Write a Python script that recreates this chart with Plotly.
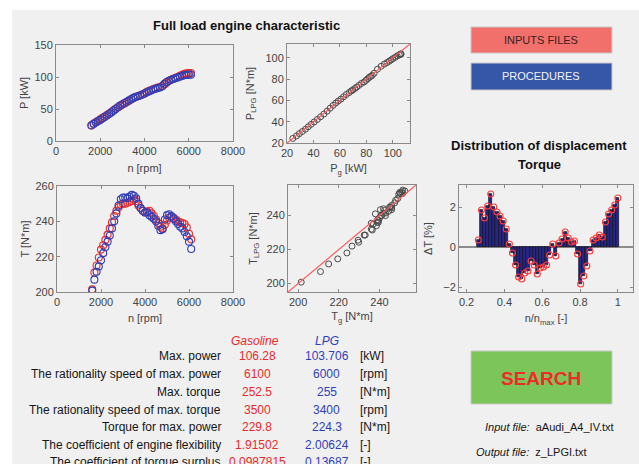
import plotly.graph_objects as go

# ---- engine speed grid [rpm] ----
rpm = [1600, 1700, 1800, 1900, 2000, 2100, 2200, 2300, 2400, 2500,
       2600, 2700, 2800, 2900, 3000, 3100, 3200, 3300, 3400, 3500,
       3600, 3700, 3800, 3900, 4000, 4100, 4200, 4300, 4400, 4500,
       4600, 4700, 4800, 4900, 5000, 5100, 5200, 5300, 5400, 5500,
       5600, 5700, 5800, 5900, 6000, 6100]

# ---- full load torque [N*m] ----
torque_gasoline = [201.5, 211.0, 215.0, 219.5, 224.0, 226.5, 229.5, 232.5, 236.0, 239.5,
                   243.0, 246.0, 248.0, 249.5, 250.0, 250.0, 250.5, 251.0, 251.5, 252.5,
                   251.5, 249.0, 247.5, 246.0, 245.0, 245.5, 246.0, 244.5, 243.0, 241.0,
                   239.0, 237.0, 236.0, 238.0, 240.5, 242.0, 242.5, 242.0, 241.0, 240.0,
                   239.5, 239.0, 238.5, 236.5, 233.0, 229.8]
torque_lpg = [200.8, 207.0, 211.5, 214.5, 218.0, 222.0, 225.5, 228.5, 232.0, 236.0,
              240.0, 244.5, 249.0, 252.5, 253.5, 253.5, 253.0, 254.0, 255.0, 254.5,
              253.0, 250.0, 247.5, 246.0, 245.0, 245.0, 243.5, 242.5, 241.5, 240.0,
              237.5, 235.0, 235.5, 241.0, 243.5, 244.0, 243.0, 241.5, 240.0, 238.5,
              237.0, 236.0, 234.0, 231.5, 228.5, 224.3]

# ---- full load power [kW] ----
power_gasoline = [24.44, 27.20, 29.34, 31.62, 33.97, 36.06, 38.28, 40.54, 42.94, 45.40,
                  47.90, 50.36, 52.65, 54.86, 56.86, 58.76, 60.78, 62.80, 64.83, 67.00,
                  68.65, 69.85, 71.31, 72.74, 74.30, 76.31, 78.34, 79.71, 81.06, 82.22,
                  83.35, 84.45, 85.89, 88.42, 91.17, 93.57, 95.61, 97.24, 98.67, 100.08,
                  101.69, 103.29, 104.88, 105.79, 105.99, 106.28]
power_lpg = [24.30, 26.62, 28.80, 30.83, 32.98, 35.26, 37.53, 39.75, 42.12, 44.63,
             47.20, 49.94, 52.74, 55.39, 57.53, 59.44, 61.24, 63.40, 65.58, 67.38,
             68.90, 69.97, 71.14, 72.57, 74.13, 75.98, 77.36, 78.88, 80.38, 81.69,
             82.64, 83.55, 85.51, 89.33, 92.10, 94.13, 95.58, 96.82, 98.03, 99.22,
             100.39, 101.75, 102.66, 103.32, 103.706, 103.50]

# ---- torque displacement [%] ----
delta_torque = [0.35, 1.85, 1.45, 2.05, 2.65, 2.0, 1.75, 1.55, 1.3, 0.9,
                0.15, -0.3, -0.9, -1.5, -1.6, -1.3, -1.2, -0.7, -0.9, -1.35,
                -1.05, -1.0, -0.9, -0.4, 0.15, -0.45, 0.2, 0.4, 0.75, 0.45,
                0.25, 0.3, -0.35, -1.85, -1.45, -0.95, -0.2, 0.35, 0.45, 0.6,
                0.5, 1.25, 1.65, 1.85, 2.1, 2.45]

n_max = max(rpm)
n_ratio = [n / n_max for n in rpm]

# ---- summary table ----
param_labels = ["Max. power", "The rationality speed of max. power", "Max. torque",
                "The rationality speed of max. torque", "Torque for max. power",
                "The coefficient of engine flexibility", "The coefficient of torque surplus"]
gasoline_vals = ["106.28", "6100", "252.5", "3500", "229.8", "1.91502", "0.0987815"]
lpg_vals = ["103.706", "6000", "255", "3400", "224.3", "2.00624", "0.13687"]
units = ["[kW]", "[rpm]", "[N*m]", "[rpm]", "[N*m]", "[-]", "[-]"]

# axis limits
RPM_RANGE = [0, 8000]
P_RANGE = [0, 150]
T_RANGE = [200, 260]
PP_RANGE = [20, 113]
TT_RANGE = [195, 258]
RATIO_RANGE = [0.16, 1.08]
DT_RANGE = [-2.25, 3.1]

W, H = 639, 464
FONT = "Arial, Liberation Sans, sans-serif"
RED = "#ea2a2a"
BLUE = "#2f3fb8"
TXT = "#444444"
DARK = "#151515"


def px(x):
    return x / W


def py(y):
    return 1 - y / H


fig = go.Figure()

marker_red = dict(symbol="circle-open", size=7, color=RED, line=dict(width=1.1))
marker_blue = dict(symbol="circle-open", size=7, color=BLUE, line=dict(width=1.1))
marker_grey = dict(symbol="circle-open", size=6, color="#4a4a4a", line=dict(width=1))

# power vs speed
fig.add_trace(go.Scatter(x=rpm, y=power_gasoline, mode="markers", marker=marker_red,
                         xaxis="x", yaxis="y", name="Gasoline"))
fig.add_trace(go.Scatter(x=rpm, y=power_lpg, mode="markers", marker=marker_blue,
                         xaxis="x", yaxis="y", name="LPG"))

# LPG power vs gasoline power
fig.add_trace(go.Scatter(x=power_gasoline, y=power_lpg, mode="markers", marker=marker_grey,
                         xaxis="x2", yaxis="y2"))
fig.add_trace(go.Scatter(x=PP_RANGE, y=PP_RANGE, mode="lines",
                         line=dict(color="#ff5a5a", width=1.2), xaxis="x2", yaxis="y2"))

# torque vs speed
fig.add_trace(go.Scatter(x=rpm, y=torque_gasoline, mode="markers", marker=marker_red,
                         xaxis="x3", yaxis="y3"))
fig.add_trace(go.Scatter(x=rpm, y=torque_lpg, mode="markers", marker=marker_blue,
                         xaxis="x3", yaxis="y3"))

# LPG torque vs gasoline torque
fig.add_trace(go.Scatter(x=torque_gasoline, y=torque_lpg, mode="markers", marker=marker_grey,
                         xaxis="x4", yaxis="y4"))
fig.add_trace(go.Scatter(x=TT_RANGE, y=TT_RANGE, mode="lines",
                         line=dict(color="#ff5a5a", width=1.2), xaxis="x4", yaxis="y4"))

# torque displacement distribution
fig.add_trace(go.Bar(x=n_ratio, y=delta_torque, marker=dict(color="#25258a",
                     line=dict(color="#111111", width=0.7)), xaxis="x5", yaxis="y5"))
fig.add_trace(go.Scatter(x=n_ratio, y=delta_torque, mode="markers",
                         marker=dict(symbol="circle-open", size=6, color="#ff3a3a",
                                     line=dict(width=1.1)),
                         xaxis="x5", yaxis="y5"))

axis_common = dict(showgrid=False, zeroline=False, showline=True, linecolor="#8a8a8a",
                   linewidth=1, mirror="allticks", ticks="inside", ticklen=3,
                   tickcolor="#8a8a8a", tickfont=dict(family=FONT, size=11, color=TXT),
                   fixedrange=True, automargin=False)


def ttl(s, standoff):
    return dict(text=s, standoff=standoff, font=dict(family=FONT, size=11, color=TXT))


fig.update_layout(
    width=W, height=H, margin=dict(l=0, r=0, t=0, b=0),
    paper_bgcolor="white", plot_bgcolor="white", showlegend=False, bargap=0,
    font=dict(family=FONT, size=12, color=TXT),
    xaxis=dict(axis_common, domain=[px(56), px(233)], range=RPM_RANGE, anchor="y",
               tickvals=[0, 2000, 4000, 6000, 8000], title=ttl("n [rpm]", 8)),
    yaxis=dict(axis_common, domain=[py(141), py(45)], range=P_RANGE, anchor="x",
               tickvals=[0, 50, 100, 150], title=ttl("P [kW]", 3)),
    xaxis2=dict(axis_common, domain=[px(287), px(410)], range=PP_RANGE, anchor="y2",
                tickvals=[20, 40, 60, 80, 100], title=ttl("P<sub>g</sub> [kW]", 6)),
    yaxis2=dict(axis_common, domain=[py(143), py(44)], range=PP_RANGE, anchor="x2",
                tickvals=[20, 40, 60, 80, 100], title=ttl("P<sub>LPG</sub> [N*m]", 8)),
    xaxis3=dict(axis_common, domain=[px(57), px(233)], range=RPM_RANGE, anchor="y3",
                tickvals=[0, 2000, 4000, 6000, 8000], title=ttl("n [rpm]", 7)),
    yaxis3=dict(axis_common, domain=[py(292), py(186)], range=T_RANGE, anchor="x3",
                tickvals=[200, 220, 240, 260], title=ttl("T [N*m]", 3)),
    xaxis4=dict(axis_common, domain=[px(288), px(416)], range=TT_RANGE, anchor="y4",
                tickvals=[200, 220, 240], title=ttl("T<sub>g</sub> [N*m]", 5)),
    yaxis4=dict(axis_common, domain=[py(292), py(185)], range=TT_RANGE, anchor="x4",
                tickvals=[200, 220, 240], title=ttl("T<sub>LPG</sub> [N*m]", 6)),
    xaxis5=dict(axis_common, domain=[px(459), px(633)], range=RATIO_RANGE, anchor="y5",
                tickvals=[0.2, 0.4, 0.6, 0.8, 1], ticktext=["0.2", "0.4", "0.6", "0.8", "1"],
                title=ttl("n/n<sub>max</sub> [-]", 7)),
    yaxis5=dict(axis_common, domain=[py(292), py(185)], range=DT_RANGE, anchor="x5",
                tickvals=[-2, 0, 2], zeroline=True, zerolinecolor="#8c8c8c", zerolinewidth=2,
                title=ttl("ΔT [%]", 8)),
)

shapes = [
    # panel background
    dict(type="rect", xref="paper", yref="paper", x0=px(12), x1=1, y0=0, y1=py(10),
         fillcolor="#f0f0f0", line=dict(width=0), layer="below"),
    # buttons
    dict(type="rect", xref="paper", yref="paper", x0=px(471), x1=px(612), y0=py(53), y1=py(27),
         fillcolor="#f1706c", line=dict(color="#c9c9c9", width=1)),
    dict(type="rect", xref="paper", yref="paper", x0=px(471), x1=px(612), y0=py(90), y1=py(63),
         fillcolor="#3656a8", line=dict(color="#c9c9c9", width=1)),
    dict(type="rect", xref="paper", yref="paper", x0=px(471), x1=px(612), y0=py(404), y1=py(351),
         fillcolor="#7cc55a", line=dict(color="#c9c9c9", width=1)),
]

ann = []


def text(x, y, s, size=12, color=TXT, anchor="center", bold=False, italic=False):
    if bold:
        s = "<b>" + s + "</b>"
    if italic:
        s = "<i>" + s + "</i>"
    ann.append(dict(x=px(x), y=py(y), xref="paper", yref="paper", text=s, showarrow=False,
                    xanchor=anchor, yanchor="middle",
                    font=dict(family=FONT, size=size, color=color)))


# titles
text(247, 26, "Full load engine characteristic", size=13, color="#111111", bold=True)
text(539, 145, "Distribution of displacement", size=13, color="#111111", bold=True)
text(539, 164, "Torque", size=13, color="#111111", bold=True)

# buttons
text(541, 40, "INPUTS FILES", size=11, color="#3a2020")
text(541, 76, "PROCEDURES", size=11, color="#f4f4f4")
text(541, 378, "SEARCH", size=19, color="#ee2a2a", bold=True)

# file info
text(483, 427, "<i>Input file:</i>  aAudi_A4_IV.txt", size=11, color=DARK, anchor="left")
text(474, 452, "<i>Output file:</i>  z_LPGI.txt", size=11, color=DARK, anchor="left")

# summary table
text(255, 341, "Gasoline", size=12, color=RED, italic=True)
text(327, 341, "LPG", size=12, color=BLUE, italic=True)
row_y = [356, 374, 392, 410, 427, 445, 462]
for yy, lab, gv, lv, un in zip(row_y, param_labels, gasoline_vals, lpg_vals, units):
    text(223, yy, lab, size=12, color=DARK, anchor="right")
    text(257, yy, gv, size=12, color=RED)
    text(327, yy, lv, size=12, color=BLUE)
    text(358, yy, un, size=12, color=DARK, anchor="left")

fig.update_layout(shapes=shapes, annotations=ann)
fig.write_html("out.html")
